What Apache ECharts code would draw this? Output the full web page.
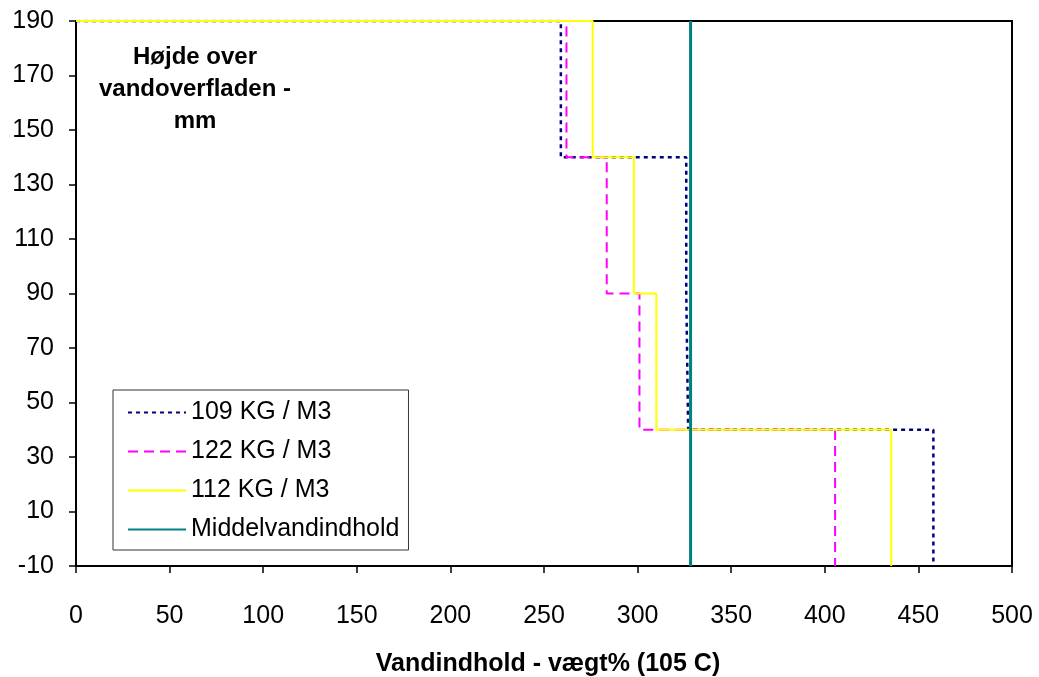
<!DOCTYPE html>
<html>
<head>
<meta charset="utf-8">
<script src="https://cdn.jsdelivr.net/npm/echarts@6/dist/echarts.min.js"></script>
<style>
html,body{margin:0;padding:0;background:#fff;}
#chart{width:1039px;height:677px;}
</style>
</head>
<body>
<div id="chart"></div>
<script>
// Layer boundaries (height above water surface, mm)
const layerBounds = [190, 140, 90, 40, -10];
// Water content (weight %) per layer, top to bottom
const water109 = [259, 326, 327, 458];
const water122 = [262, 283.5, 301, 405.5];
const water112 = [276, 298, 310, 435.5];
// Mean water content
const meanWater = 328.3;
const seriesNames = ['109 KG / M3', '122 KG / M3', '112 KG / M3', 'Middelvandindhold'];
const yTicks = [-10, 190, 20]; // min, max, interval
const xTicks = [0, 500, 50];

function stepPoints(vals) {
  const pts = [[0, layerBounds[0]]];
  for (let i = 0; i < vals.length; i++) {
    pts.push([vals[i], layerBounds[i]]);
    pts.push([vals[i], layerBounds[i + 1]]);
  }
  return pts;
}

const FONT = "'Liberation Sans', Arial, sans-serif";
const chart = echarts.init(document.getElementById('chart'), null, {renderer: 'canvas'});
chart.setOption({
  animation: false,
  backgroundColor: '#fff',
  grid: {left: 76, right: 27, top: 21, bottom: 111, containLabel: false, outerBoundsMode: 'none',
    show: true, borderColor: '#000', borderWidth: 2, backgroundColor: 'transparent'},
  xAxis: {
    type: 'value', min: xTicks[0], max: xTicks[1], interval: xTicks[2],
    axisLine: {show: true, onZero: false, lineStyle: {color: '#000', width: 2}},
    axisTick: {show: true, inside: false, length: 7, lineStyle: {color: '#000', width: 1.5}},
    axisLabel: {color: '#000', fontFamily: FONT, fontSize: 25, margin: 38},
    splitLine: {show: false},
    name: 'Vandindhold - vægt% (105 C)', nameLocation: 'middle', nameGap: 86,
    nameTextStyle: {color: '#000', fontFamily: FONT, fontSize: 25, fontWeight: 'bold', padding: [0, 0, 0, 8]}
  },
  yAxis: {
    type: 'value', min: yTicks[0], max: yTicks[1], interval: yTicks[2],
    axisLine: {show: true, onZero: false, lineStyle: {color: '#000', width: 2}},
    axisTick: {show: true, inside: false, length: 7, lineStyle: {color: '#000', width: 1.5}},
    axisLabel: {color: '#000', fontFamily: FONT, fontSize: 25, margin: 22},
    splitLine: {show: false}
  },
  legend: {
    orient: 'vertical', left: 113, top: 390,
    padding: [10, 9, 8, 14],
    itemWidth: 58, itemHeight: 25, itemGap: 14,
    backgroundColor: '#fff', borderColor: '#333', borderWidth: 1,
    itemStyle: {opacity: 0},
    textStyle: {color: '#000', fontFamily: FONT, fontSize: 25},
    data: seriesNames
  },
  graphic: [{
    type: 'text', x: 195, y: 41, z: 100,
    style: {text: 'Højde over\nvandoverfladen -\nmm', align: 'center', verticalAlign: 'top', lineHeight: 32,
      font: "bold 24px 'Liberation Sans', Arial, sans-serif", fill: '#000'}
  }],
  series: [
    {name: seriesNames[0], type: 'line', symbol: 'none', data: stepPoints(water109),
      lineStyle: {color: '#000080', width: 2.5, type: [4, 4]}, itemStyle: {color: '#000080'}, z: 2},
    {name: seriesNames[1], type: 'line', symbol: 'none', data: stepPoints(water122),
      lineStyle: {color: '#FF00FF', width: 2, type: [10, 6]}, itemStyle: {color: '#FF00FF'}, z: 3},
    {name: seriesNames[2], type: 'line', symbol: 'none', data: stepPoints(water112),
      lineStyle: {color: '#FFFF00', width: 2}, itemStyle: {color: '#FFFF00'}, z: 4},
    {name: seriesNames[3], type: 'line', symbol: 'none', data: [[meanWater, yTicks[0]], [meanWater, yTicks[1]]],
      lineStyle: {color: '#008080', width: 3}, itemStyle: {color: '#008080'}, z: 5}
  ]
});
</script>
</body>
</html>
